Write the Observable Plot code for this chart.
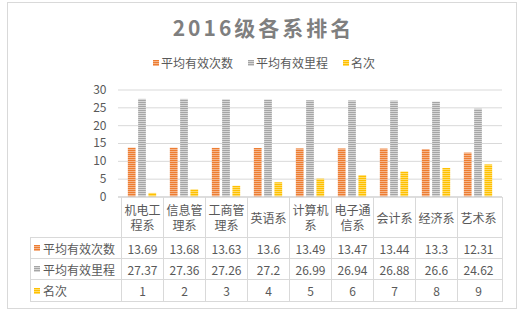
<!DOCTYPE html>
<html><head><meta charset="utf-8">
<script src="https://cdn.jsdelivr.net/npm/d3@7"></script>
<script src="https://cdn.jsdelivr.net/npm/@observablehq/plot@0.6"></script>
<style>
body{margin:0;background:#fff;font-family:"Noto Sans CJK SC","Noto Sans",sans-serif;}
#wrap{position:relative;width:524px;height:313px;overflow:hidden;background:#fff;}
</style>
</head><body>
<div id="wrap"></div>
<script>
const title = "2016级各系排名";
const cats = ["机电工程系","信息管理系","工商管理系","英语系","计算机系","电子通信系","会计系","经济系","艺术系"];
const seriesNames = ["平均有效次数","平均有效里程","名次"];
const avgCount = [13.69,13.68,13.63,13.6,13.49,13.47,13.44,13.3,12.31];
const avgMileage = [27.37,27.36,27.26,27.2,26.99,26.94,26.88,26.6,24.62];
const rank = [1,2,3,4,5,6,7,8,9];
const yTicks = [0,5,10,15,20,25,30];

const colors = [["#ED7D31","#F5B48A"],["#A5A5A5","#D6D6D6"],["#FFC000","#FFDC6A"]];
const font = '"Noto Sans CJK SC","Noto Sans",sans-serif';
const textColor = "#595959";
const lineColor = "#d9d9d9";

const wrap = document.getElementById("wrap");
function el(parent, tag, css, text){
  const e = document.createElement(tag);
  e.style.cssText = css;
  if (text != null) e.textContent = text;
  parent.appendChild(e);
  return e;
}
const stripe = c => `repeating-linear-gradient(to bottom, ${c[0]} 0px, ${c[0]} 1px, ${c[1]} 1px, ${c[1]} 2px)`;

// outer border
el(wrap, "div", `position:absolute;left:7px;top:2px;width:508px;height:305px;border:1px solid ${lineColor};box-sizing:content-box;`);

// title
el(wrap, "div", `position:absolute;left:0;top:14px;width:527px;text-align:center;font-size:21px;line-height:26px;font-weight:bold;color:#7f7f7f;letter-spacing:3px;font-family:${font};`, title);

// legend
const leg = el(wrap, "div", `position:absolute;left:2px;top:55px;width:524px;display:flex;justify-content:center;gap:15px;font-size:12px;line-height:16px;color:${textColor};font-family:${font};`);
seriesNames.forEach((n,i)=>{
  const it = el(leg, "div", "display:flex;align-items:center;");
  el(it, "span", `display:inline-block;width:6px;height:6px;margin-right:2px;background:${stripe(colors[i])};`);
  el(it, "span", "", n);
});

// chart
const rows = cats.map((c,i)=>({cat:c, a:avgCount[i], b:avgMileage[i], r:rank[i]}));
const W = 524, H = 118, mL = 118, mR = 22, mT = 9.5, mB = 1.5;
const bw = (W - mL - mR) / cats.length;
const barW = 8.4, step = 10.3;
const inset = (bw - barW) / 2;
const chart = Plot.plot({
  width: W, height: H, marginTop: mT, marginBottom: mB, marginLeft: mL, marginRight: mR,
  style: {fontFamily: font, fontSize: "12px", color: textColor, background: "transparent", overflow: "visible"},
  x: {type: "band", domain: cats, padding: 0, axis: null},
  y: {domain: [0, 30], axis: null},
  marks: [
    Plot.gridY(yTicks, {stroke: lineColor, strokeOpacity: 1}),
    Plot.axisY(yTicks, {tickSize: 0, tickPadding: 12, label: null, fill: textColor, fontSize: 12}),
    Plot.barY(rows, {x: "cat", y: "a", fill: "url(#pat0)", dx: -step, insetLeft: inset, insetRight: inset}),
    Plot.barY(rows, {x: "cat", y: "b", fill: "url(#pat1)", dx: 0, insetLeft: inset, insetRight: inset}),
    Plot.barY(rows, {x: "cat", y: "r", fill: "url(#pat2)", dx: step, insetLeft: inset, insetRight: inset}),
    Plot.ruleY([0], {stroke: "#cfcfcf"})
  ]
});
const ns = "http://www.w3.org/2000/svg";
const defs = document.createElementNS(ns, "defs");
colors.forEach((c,i)=>{
  const p = document.createElementNS(ns, "pattern");
  p.setAttribute("id", "pat" + i);
  p.setAttribute("patternUnits", "userSpaceOnUse");
  p.setAttribute("width", "4"); p.setAttribute("height", "2");
  const r1 = document.createElementNS(ns, "rect");
  r1.setAttribute("width","4"); r1.setAttribute("height","2"); r1.setAttribute("fill", c[0]);
  const r2 = document.createElementNS(ns, "rect");
  r2.setAttribute("y","1"); r2.setAttribute("width","4"); r2.setAttribute("height","1"); r2.setAttribute("fill", c[1]);
  p.appendChild(r1); p.appendChild(r2); defs.appendChild(p);
});
chart.insertBefore(defs, chart.firstChild);
const holder = el(wrap, "div", "position:absolute;left:0;top:80px;");
holder.appendChild(chart);

// data table (columns aligned with the chart's x scale)
const xs = chart.scale("x");
const x0 = xs.range[0], x1 = xs.range[1], bwid = xs.bandwidth;
const tLeft = 30;
const rowTops = [197, 237, 258, 279, 301];
const line = (x, y, w, h) => el(wrap, "div", `position:absolute;left:${x}px;top:${y}px;width:${w}px;height:${h}px;background:${lineColor};`);
cats.forEach(c => line(Math.round(xs.apply(c)), rowTops[0], 1, rowTops[4] - rowTops[0] + 1));
line(Math.round(x1), rowTops[0], 1, rowTops[4] - rowTops[0] + 1);
line(tLeft, rowTops[1], 1, rowTops[4] - rowTops[1] + 1);
[1,2,3,4].forEach(k => line(tLeft, rowTops[k], Math.round(x1) - tLeft + 1, 1));

const cellCss = (x, y, w, h) => `position:absolute;left:${x}px;top:${y}px;width:${w}px;height:${h}px;display:flex;align-items:center;justify-content:center;text-align:center;font-size:12px;line-height:15px;color:${textColor};font-family:${font};`;
cats.forEach(c => el(wrap, "div", cellCss(xs.apply(c) + 1, rowTops[0], bwid - 1, rowTops[1] - rowTops[0]), c));
const tableSeries = [avgCount, avgMileage, rank];
tableSeries.forEach((vals, k) => {
  const top = rowTops[k+1] + 1, h = rowTops[k+2] - rowTops[k+1] - 1;
  cats.forEach((c,i) => el(wrap, "div", cellCss(xs.apply(c) + 1, top, bwid - 1, h), String(vals[i])));
  const lab = el(wrap, "div", `position:absolute;left:34px;top:${top}px;height:${h}px;display:flex;align-items:center;font-size:12px;color:${textColor};font-family:${font};white-space:nowrap;`);
  el(lab, "span", `display:inline-block;width:6px;height:6px;margin-right:3px;background:${stripe(colors[k])};`);
  el(lab, "span", "", seriesNames[k]);
});
</script>
</body></html>
